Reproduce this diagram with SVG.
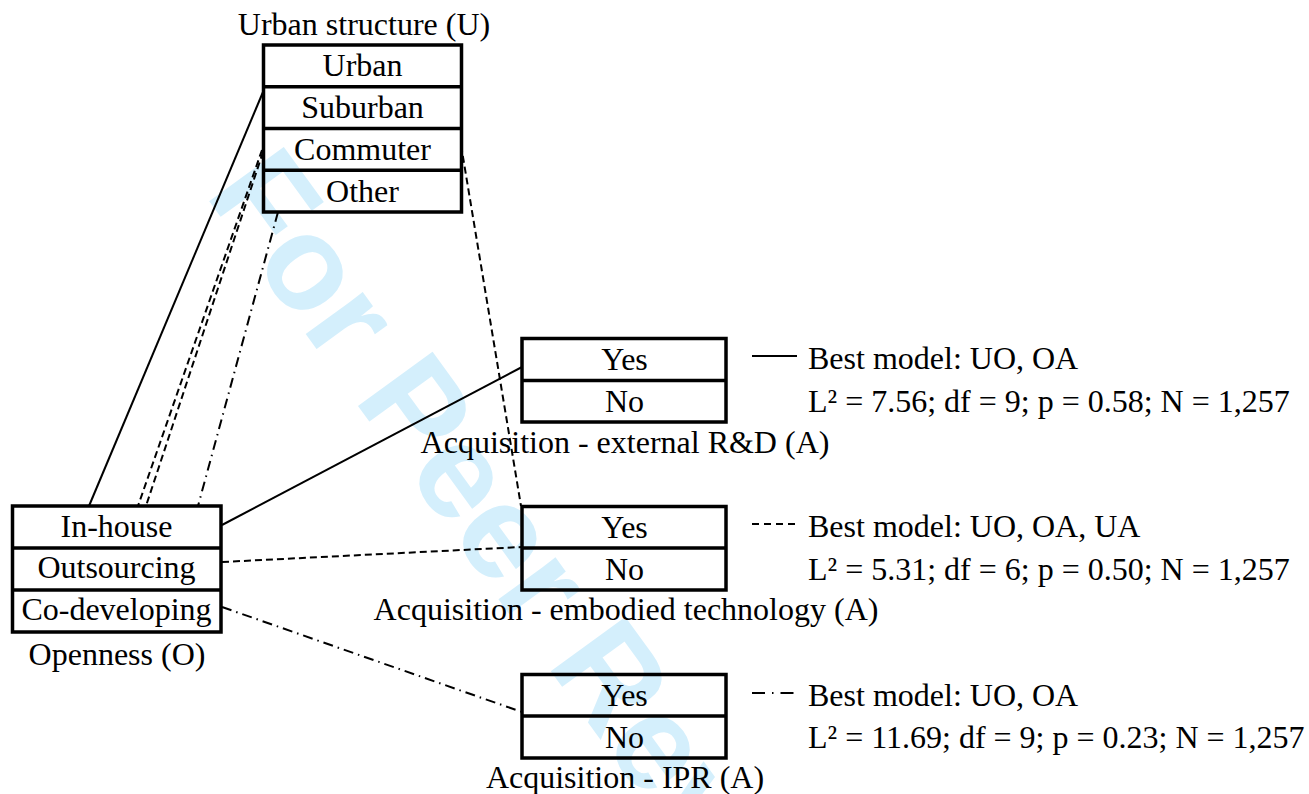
<svg xmlns="http://www.w3.org/2000/svg" width="1309" height="794" viewBox="0 0 1309 794">
<style>
  .t { font-family: "Liberation Serif", "Times New Roman", serif; font-size: 32px; fill: #000; }
  .c { text-anchor: middle; }
  .box { fill: none; stroke: #000; stroke-width: 3.5; }
  .div { stroke: #000; stroke-width: 3.5; }
  .solid { stroke: #000; stroke-width: 2; fill: none; }
  .dash { stroke: #000; stroke-width: 2; fill: none; stroke-dasharray: 7 4; }
  .dashdot { stroke: #000; stroke-width: 2; fill: none; stroke-dasharray: 10 5 1.5 5; }
  .wm { font-family: "Liberation Sans", Arial, sans-serif; font-weight: bold; font-size: 134px; fill: #d4effc; }
</style>
<rect width="1309" height="794" fill="#fff"/>
<text class="wm" x="204" y="194" transform="rotate(54 204 194)">For Peer Review</text>

<g id="connectors">
  <line class="solid" x1="263" y1="92" x2="89" y2="506"/>
  <line class="solid" x1="222" y1="525" x2="522" y2="367"/>
  <line class="dash" x1="262" y1="150" x2="138" y2="506"/>
  <line class="dash" x1="263" y1="152" x2="146" y2="506"/>
  <line class="dash" x1="461" y1="145" x2="521" y2="506"/>
  <line class="dash" x1="222" y1="562" x2="522" y2="547"/>
  <line class="dashdot" x1="278" y1="212" x2="198" y2="506"/>
  <line class="dashdot" x1="222" y1="607" x2="522" y2="712"/>
</g>

<g id="node-urban">
  <text class="t c" x="364" y="35">Urban structure (U)</text>
  <rect class="box" x="263.5" y="45" width="198" height="167"/>
  <line class="div" x1="263.5" y1="86.75" x2="461.5" y2="86.75"/>
  <line class="div" x1="263.5" y1="128.5" x2="461.5" y2="128.5"/>
  <line class="div" x1="263.5" y1="170.25" x2="461.5" y2="170.25"/>
  <text class="t c" x="362.5" y="76">Urban</text>
  <text class="t c" x="362.5" y="118">Suburban</text>
  <text class="t c" x="362.5" y="160">Commuter</text>
  <text class="t c" x="362.5" y="202">Other</text>
</g>

<g id="node-openness">
  <rect class="box" x="12.5" y="506" width="208.5" height="126"/>
  <line class="div" x1="12.5" y1="548" x2="221" y2="548"/>
  <line class="div" x1="12.5" y1="590" x2="221" y2="590"/>
  <text class="t c" x="116.5" y="537">In-house</text>
  <text class="t c" x="116.5" y="578">Outsourcing</text>
  <text class="t c" x="116.5" y="620">Co-developing</text>
  <text class="t c" x="117" y="665">Openness (O)</text>
</g>

<g id="node-acq-rd">
  <rect class="box" x="522" y="338.5" width="204" height="83.5"/>
  <line class="div" x1="522" y1="380.5" x2="726" y2="380.5"/>
  <text class="t c" x="624.5" y="370">Yes</text>
  <text class="t c" x="624.5" y="412">No</text>
  <text class="t c" x="625" y="453">Acquisition - external R&amp;D (A)</text>
</g>

<g id="node-acq-emb">
  <rect class="box" x="522" y="506.5" width="204" height="83.5"/>
  <line class="div" x1="522" y1="548" x2="726" y2="548"/>
  <text class="t c" x="624.5" y="538">Yes</text>
  <text class="t c" x="624.5" y="580">No</text>
  <text class="t c" x="626" y="620">Acquisition - embodied technology (A)</text>
</g>

<g id="node-acq-ipr">
  <rect class="box" x="522" y="674.5" width="204" height="83.5"/>
  <line class="div" x1="522" y1="716" x2="726" y2="716"/>
  <text class="t c" x="624.5" y="706">Yes</text>
  <text class="t c" x="624.5" y="748">No</text>
  <text class="t c" x="625" y="788">Acquisition - IPR (A)</text>
</g>

<g id="legend">
  <line class="solid" x1="752" y1="356" x2="797" y2="356"/>
  <text class="t" x="808" y="369">Best model: UO, OA</text>
  <text class="t" x="808" y="412">L² = 7.56; df = 9; p = 0.58; N = 1,257</text>
  <line class="dash" x1="752" y1="524" x2="797" y2="524" style="stroke-dasharray:7 5"/>
  <text class="t" x="808" y="537">Best model: UO, OA, UA</text>
  <text class="t" x="808" y="580">L² = 5.31; df = 6; p = 0.50; N = 1,257</text>
  <line class="dashdot" x1="752" y1="693" x2="797" y2="693" style="stroke-dasharray:13 7 1.5 7"/>
  <text class="t" x="808" y="706">Best model: UO, OA</text>
  <text class="t" x="808" y="748">L² = 11.69; df = 9; p = 0.23; N = 1,257</text>
</g>
</svg>
